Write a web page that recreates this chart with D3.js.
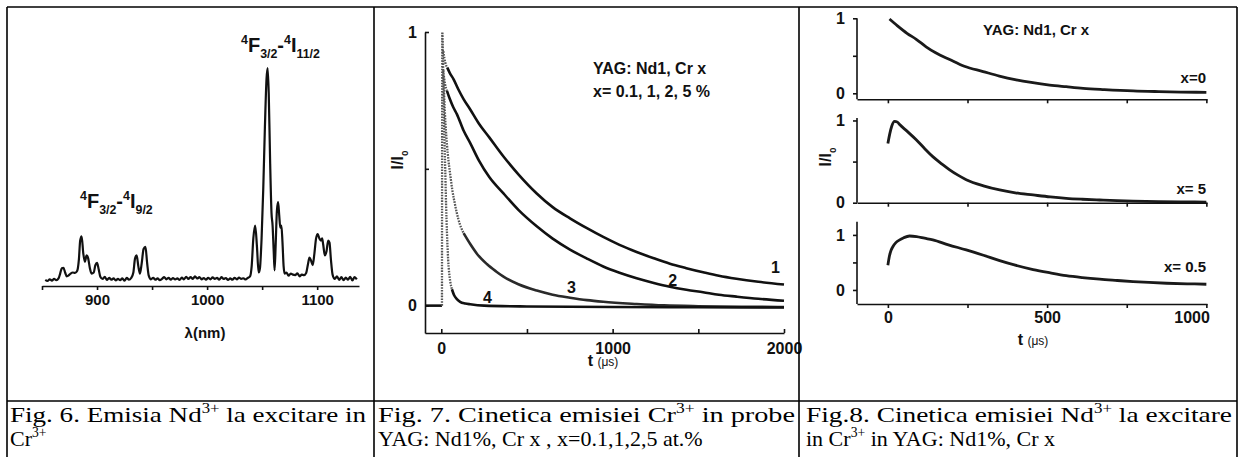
<!DOCTYPE html>
<html>
<head>
<meta charset="utf-8">
<script src="https://cdn.jsdelivr.net/npm/d3@7"></script>
<style>
body { margin: 0; background: #fff; }
svg text { font-family: "Liberation Sans", Arial, sans-serif; fill: #111; }
svg text.cap { font-family: "Liberation Serif", "Times New Roman", serif; font-weight: normal; fill: #000; }
</style>
</head>
<body>
<script>

// ---- data ----

// Fig. 6: emission spectrum, [wavelength nm, relative intensity]
const spectrum = [
  [853,0.005],[855,0.0],[857,0.008],[859,0.002],[861,0.01],[863,0.004],[865,0.012],[866.5,0.035],
  [868,0.06],[869.5,0.062],[871,0.04],[872.5,0.022],[874,0.025],[876,0.035],[878,0.04],[880,0.038],
  [882,0.048],[883.5,0.1],[884.7,0.19],[886,0.21],[887.5,0.13],[889,0.09],[890.5,0.12],[892,0.105],
  [893.5,0.06],[895,0.035],[897,0.04],[898.5,0.075],[900,0.085],[901.5,0.055],[903,0.02],[905,0.01],
  [907,0.02],[909,0.005],[911,0.015],[913,0.006],[915,0.012],[917,0.003],[919,0.01],[921,0.004],
  [923,0.012],[925,0.002],[927,0.015],[929,0.006],[931,0.014],[933,0.04],[934.5,0.105],[936,0.12],
  [937.5,0.07],[939,0.035],[940.5,0.08],[942.3,0.15],[944,0.16],[945.5,0.085],[947,0.025],[949,0.008],
  [951,0.015],[953,0.006],[955,0.012],[957,0.004],[959,0.01],[961,0.018],[963,0.008],[965,0.015],
  [967,0.006],[969,0.014],[971,0.007],[973,0.012],[975,0.005],[977,0.016],[979,0.008],[981,0.02],
  [983,0.01],[985,0.018],[987,0.01],[989,0.022],[991,0.012],[993,0.018],[995,0.008],[997,0.014],
  [999,0.006],[1001,0.015],[1003,0.008],[1005,0.017],[1007,0.01],[1009,0.015],[1011,0.006],[1013,0.018],
  [1015,0.01],[1017,0.014],[1019,0.005],[1021,0.012],[1023,0.006],[1025,0.015],[1027,0.008],[1029,0.016],
  [1031,0.01],[1033,0.013],[1035,0.007],[1037,0.015],[1039,0.022],[1040.5,0.07],[1042,0.2],[1043.7,0.26],
  [1045.3,0.16],[1046.8,0.04],[1048,0.06],[1049.5,0.2],[1051,0.43],[1052.5,0.72],[1054,0.95],[1055,1.0],
  [1056,0.88],[1057.3,0.55],[1058.5,0.32],[1059.5,0.26],[1060.5,0.14],[1061.3,0.05],[1062.3,0.17],[1063.4,0.33],
  [1064.5,0.37],[1065.5,0.31],[1066.5,0.25],[1067.5,0.26],[1068.5,0.18],[1069.5,0.07],[1070.5,0.035],[1072,0.04],
  [1074,0.025],[1076,0.035],[1078,0.03],[1080,0.028],[1082,0.036],[1084,0.022],[1086,0.03],[1088,0.028],
  [1090,0.038],[1091.5,0.075],[1093,0.11],[1094.5,0.095],[1096,0.075],[1097.5,0.13],[1099,0.2],[1100.5,0.22],
  [1102,0.2],[1103.5,0.19],[1104.5,0.2],[1105.5,0.17],[1107,0.12],[1108.5,0.14],[1110,0.19],[1111.2,0.18],
  [1112.5,0.1],[1114,0.03],[1116,0.01],[1118,0.022],[1120,0.005],[1122,0.018],[1124,0.004],[1126,0.016],
  [1128,0.006],[1130,0.02],[1132,0.003],[1134,0.018],[1136,0.008]
];
const specTicks = [850, 900, 950, 1000, 1050, 1100];
const specLabels = [900, 1000, 1100];

// Fig. 7: Cr emission decay, [t us, I/I0], curves 1..4 (x = 0.1, 1, 2, 5 %)
const curve1 = [[12,0.93],[18,0.905],[23,0.889],[35,0.87],[50,0.85],[72,0.827],[100,0.79],[130,0.755],
  [169,0.717],[220,0.665],[280,0.615],[363,0.545],[450,0.48],[557,0.41],[650,0.36],[751,0.319],[850,0.283],
  [945,0.251],[1040,0.222],[1140,0.196],[1240,0.173],[1334,0.153],[1430,0.137],[1528,0.122],[1620,0.109],
  [1722,0.098],[1850,0.087],[2000,0.077]];
const curve2 = [[15,0.84],[22,0.81],[33,0.785],[50,0.755],[70,0.725],[91,0.70],[130,0.64],[169,0.594],
  [220,0.53],[280,0.47],[363,0.41],[450,0.35],[557,0.29],[650,0.245],[751,0.205],[850,0.172],[945,0.143],
  [1040,0.12],[1140,0.1],[1240,0.083],[1334,0.069],[1430,0.058],[1528,0.049],[1620,0.04],[1722,0.033],
  [1850,0.025],[2000,0.018]];
const curve3 = [[12,0.86],[18,0.75],[25,0.66],[33,0.59],[42,0.53],[52,0.48],[65,0.42],[80,0.37],[100,0.315],
  [130,0.265],[169,0.225],[210,0.188],[266,0.152],[320,0.125],[363,0.106],[450,0.078],[557,0.055],[650,0.04],
  [751,0.029],[850,0.02],[945,0.014],[1140,0.006],[1300,0.001],[1500,-0.002],[1750,-0.004],[2000,-0.005]];
const curve4 = [[-92,0],[4,0],[6,1.0],[10,0.9],[14,0.75],[19,0.6],[23,0.5],[28,0.37],[33,0.27],[40,0.17],
  [46,0.12],[52,0.09],[62,0.06],[75,0.038],[91,0.024],[110,0.014],[140,0.008],[169,0.005],[250,0.0],
  [500,-0.003],[1000,-0.005],[1500,-0.006],[2000,-0.007]];
const decayCurves = [curve1, curve2, curve3, curve4];
const decayLabels = ["1", "2", "3", "4"];
const decayLabelAt = [[1950, 0.12], [1350, 0.07], [760, 0.045], [270, 0.008]];

// Fig. 8: Nd emission kinetics, [t us, I/I0], panels x=0, x=5, x=0.5
const ndX0 = [[5,0.99],[30,0.9],[60,0.8],[89,0.72],[120,0.62],[150,0.54],[194,0.45],[240,0.36],[299,0.29],
  [350,0.23],[403,0.18],[450,0.145],[508,0.11],[560,0.088],[613,0.067],[680,0.05],[770,0.032],[850,0.023],
  [920,0.017],[1000,0.013]];
const ndX5 = [[0,0.72],[6,0.84],[12,0.93],[21,0.99],[30,0.98],[37,0.95],[60,0.87],[89,0.765],[115,0.66],
  [141,0.56],[170,0.47],[194,0.40],[220,0.335],[246,0.28],[300,0.205],[351,0.155],[400,0.12],[456,0.094],
  [510,0.07],[560,0.053],[610,0.042],[665,0.033],[720,0.024],[770,0.018],[850,0.013],[920,0.01],[1000,0.008]];
const ndX05 = [[0,0.45],[5,0.62],[10,0.72],[16,0.79],[25,0.86],[37,0.91],[50,0.95],[68,0.98],[90,0.97],
  [115,0.94],[141,0.91],[190,0.82],[246,0.727],[300,0.63],[351,0.533],[400,0.45],[456,0.37],[510,0.31],
  [560,0.26],[610,0.225],[665,0.195],[720,0.172],[770,0.152],[820,0.136],[875,0.122],[940,0.112],[1000,0.104]];
const ndSeries = [ndX0, ndX5, ndX05];
const ndNames = ["x=0", "x= 5", "x= 0.5"];
const ndYDomains = [[-0.08, 1.0], [0, 1.03], [-0.255, 1.24]];

// captions
const captions = [
  [[{t:"Fig. 6. Emisia Nd"},{t:"3+",s:"sup"},{t:" la excitare in"}], [{t:"Cr"},{t:"3+",s:"sup"}]],
  [[{t:"Fig. 7. Cinetica emisiei Cr"},{t:"3+",s:"sup"},{t:" in probe"}], [{t:"YAG: Nd1%, Cr x , x=0.1,1,2,5 at.%"}]],
  [[{t:"Fig.8. Cinetica emisiei Nd"},{t:"3+",s:"sup"},{t:" la excitare"}], [{t:"in Cr"},{t:"3+",s:"sup"},{t:" in YAG: Nd1%, Cr x"}]]
];

// ---- drawing ----
var W = 1246, H = 457;
var svg = d3.select("body").append("svg").attr("width", W).attr("height", H);

// text with super/subscripts
function rich(sel, x, y, parts, size, opts) {
  opts = opts || {};
  var t = sel.append("text").attr("x", x).attr("y", y).attr("font-size", size);
  if (opts.bold) t.attr("font-weight", "bold");
  if (opts.anchor) t.attr("text-anchor", opts.anchor);
  if (opts.cls) t.attr("class", opts.cls);
  var shift = 0;
  parts.forEach(function(p) {
    var target = p.s === "sup" ? -0.42 * size : p.s === "sub" ? 0.3 * size : 0;
    var ts = t.append("tspan").text(p.t).attr("dy", target - shift);
    if (p.s) ts.attr("font-size", size * 0.62);
    shift = target;
  });
  return t;
}

function styleAxis(g, size) {
  g.attr("font-family", null).attr("font-size", null);
  g.selectAll("path, line").attr("stroke", "#111").attr("stroke-width", 1.6);
  g.selectAll("text").attr("font-size", size).attr("font-weight", "bold").attr("fill", "#111");
}

// ---------- Fig. 6 ----------
var x1 = d3.scaleLinear().domain([850, 1138]).range([42, 359]);
var y1 = d3.scaleLinear().domain([0, 1]).range([281, 68]);
var g1 = svg.append("g");

g1.append("path").datum(spectrum)
  .attr("fill", "none").attr("stroke", "#111").attr("stroke-width", 2.2).attr("stroke-linejoin", "round")
  .attr("d", d3.line().x(d => x1(d[0])).y(d => y1(d[1])).curve(d3.curveMonotoneX));

var ax1 = g1.append("g").attr("transform", "translate(0,286)")
  .call(d3.axisBottom(x1).tickValues(specTicks).tickSize(4).tickSizeOuter(0).tickPadding(4)
    .tickFormat(d => specLabels.indexOf(d) >= 0 ? d : ""));
styleAxis(ax1, 15);

g1.append("text").attr("x", 205).attr("y", 338).attr("text-anchor", "middle")
  .attr("font-size", 15).attr("font-weight", "bold").text("λ(nm)");

rich(g1, 241, 52, [{t:"4",s:"sup"},{t:"F"},{t:"3/2",s:"sub"},{t:"-"},{t:"4",s:"sup"},{t:"I"},{t:"11/2",s:"sub"}], 20, {bold:true});
rich(g1, 80, 208, [{t:"4",s:"sup"},{t:"F"},{t:"3/2",s:"sub"},{t:"-"},{t:"4",s:"sup"},{t:"I"},{t:"9/2",s:"sub"}], 20, {bold:true});

// ---------- Fig. 7 ----------
var x2 = d3.scaleLinear().domain([-95, 2000]).range([425, 784]);
var y2 = d3.scaleLinear().domain([-0.1, 1]).range([333, 32]);
var g2 = svg.append("g");
var line2 = d3.line().x(d => x2(d[0])).y(d => y2(d[1])).curve(d3.curveMonotoneX);

// early, sparsely sampled part drawn dotted grey
var dotTo = [25, 25, 120, 55];
decayCurves.forEach(function(c, i) {
  var early = c.filter(d => d[0] >= 4 && d[0] <= dotTo[i]);
  var nxt = c.find(d => d[0] > dotTo[i]);
  if (nxt) early.push(nxt);
  var late = c.filter(d => d[0] >= dotTo[i]);
  var pre = c.filter(d => d[0] <= 4);
  if (pre.length > 1) g2.append("path").datum(pre).attr("fill", "none").attr("stroke", "#111")
    .attr("stroke-width", 2.6).attr("d", line2);
  g2.append("path").datum(early).attr("fill", "none").attr("stroke", "#555")
    .attr("stroke-width", 2.3).attr("stroke-dasharray", "1.6 1.2").attr("d", line2);
  g2.append("path").datum(late).attr("fill", "none").attr("stroke", i === 2 ? "#2a2a2a" : "#111")
    .attr("stroke-width", 2.6).attr("d", line2);
});

var ax2 = g2.append("g").attr("transform", "translate(0,333)")
  .call(d3.axisBottom(x2).tickValues([0, 500, 1000, 1500, 2000]).tickSize(-4).tickSizeOuter(0).tickPadding(10)
    .tickFormat(d => d % 1000 === 0 ? d : ""));
styleAxis(ax2, 16);
var ay2 = g2.append("g").attr("transform", "translate(425,0)")
  .call(d3.axisLeft(y2).tickValues([0, 0.5, 1]).tickSize(-4).tickSizeOuter(0).tickPadding(8)
    .tickFormat(d => d === 0.5 ? "" : d));
styleAxis(ay2, 16);

decayLabels.forEach(function(l, i) {
  g2.append("text").attr("x", x2(decayLabelAt[i][0])).attr("y", y2(decayLabelAt[i][1]))
    .attr("text-anchor", "middle").attr("font-size", 16).attr("font-weight", "bold").text(l);
});

g2.append("text").attr("x", 593).attr("y", 74).attr("font-size", 16).attr("font-weight", "bold").text("YAG: Nd1, Cr x");
g2.append("text").attr("x", 593).attr("y", 97).attr("font-size", 16).attr("font-weight", "bold").text("x= 0.1, 1, 2, 5 %");

var yl2 = g2.append("g").attr("transform", "translate(403,160) rotate(-90)");
rich(yl2, 0, 0, [{t:"I/I"},{t:"0",s:"sub"}], 16, {bold:true, anchor:"middle"});
var xl2 = g2.append("text").attr("x", 603).attr("y", 366).attr("text-anchor", "middle");
xl2.append("tspan").attr("font-size", 16).attr("font-weight", "bold").text("t ");
xl2.append("tspan").attr("font-size", 12).text("(μs)");

// ---------- Fig. 8 ----------
var x3 = d3.scaleLinear().domain([-97, 1002]).range([857, 1207]);
var bands = [[18.3, 99.3], [118, 202.7], [221.7, 304]];
var g3 = svg.append("g");

ndSeries.forEach(function(s, i) {
  var y3 = d3.scaleLinear().domain(ndYDomains[i]).range([bands[i][1], bands[i][0]]);
  var line3 = d3.line().x(d => x3(d[0])).y(d => y3(d[1])).curve(d3.curveMonotoneX);
  g3.append("path").datum(s).attr("fill", "none").attr("stroke", "#1a1a1a")
    .attr("stroke-width", 2.8).attr("d", line3);

  var ax = g3.append("g").attr("transform", "translate(0," + bands[i][1] + ")")
    .call(d3.axisBottom(x3).tickValues([0, 250, 500, 750, 1000]).tickSize(4).tickSizeOuter(0).tickPadding(4)
      .tickFormat(d => i === 2 && d % 500 === 0 ? d : ""));
  styleAxis(ax, 16);
  ax.selectAll(".tick text").filter(d => d === 1000).attr("text-anchor", "end").attr("dx", 3);

  var ay = g3.append("g").attr("transform", "translate(857,0)")
    .call(d3.axisLeft(y3).tickValues([0, 0.5, 1]).tickSize(4).tickSizeOuter(0).tickPadding(8)
      .tickFormat(d => d === 0.5 ? "" : d));
  ay.select(".domain").attr("d", "M0," + bands[i][0] + "V" + bands[i][1]);
  styleAxis(ay, 16);
});

var ndLabelY = [83, 194, 272];
ndNames.forEach(function(n, i) {
  g3.append("text").attr("x", 1206).attr("y", ndLabelY[i]).attr("text-anchor", "end")
    .attr("font-size", 15).attr("font-weight", "bold").text(n);
});
g3.append("text").attr("x", 983).attr("y", 35).attr("font-size", 15).attr("font-weight", "bold").text("YAG: Nd1, Cr x");

var yl3 = g3.append("g").attr("transform", "translate(831,157) rotate(-90)");
rich(yl3, 0, 0, [{t:"I/I"},{t:"0",s:"sub"}], 16, {bold:true, anchor:"middle"});
var xl3 = g3.append("text").attr("x", 1033).attr("y", 345).attr("text-anchor", "middle");
xl3.append("tspan").attr("font-size", 16).attr("font-weight", "bold").text("t ");
xl3.append("tspan").attr("font-size", 12).text("(μs)");

// ---------- table frame and captions ----------
var frame = svg.append("g").attr("stroke", "#000").attr("stroke-width", 1.6);
[[7, 7, 1237, 7], [7, 401, 1237, 401], [7, 7, 7, H], [374, 7, 374, H], [799, 7, 799, H], [1237, 7, 1237, H]]
  .forEach(function(l) {
    frame.append("line").attr("x1", l[0]).attr("y1", l[1]).attr("x2", l[2]).attr("y2", l[3]);
  });

// first caption line justified to the cell width (glyphs widened a little)
var capX = [10, 378, 806];
var capW = [356, 417, 426];
captions.forEach(function(c, i) {
  c.forEach(function(lineParts, j) {
    var t = rich(svg, capX[i], j === 0 ? 422 : 446, lineParts, 22, {cls: "cap"});
    if (j === 0) t.attr("textLength", capW[i]).attr("lengthAdjust", "spacingAndGlyphs");
  });
});

</script>
</body>
</html>
